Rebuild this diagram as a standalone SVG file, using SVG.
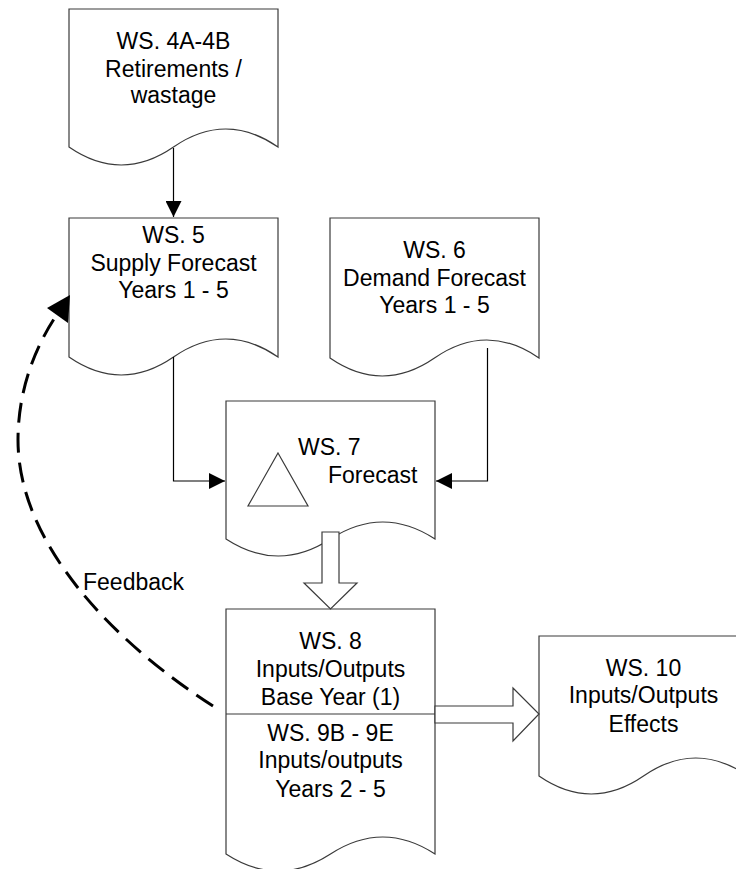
<svg xmlns="http://www.w3.org/2000/svg" width="736" height="869" viewBox="0 0 736 869">
  <style>
    .doc { fill: #ffffff; stroke: #3a3a3a; stroke-width: 1.2; }
    .blk { fill: #ffffff; stroke: #3a3a3a; stroke-width: 1.2; }
    .lbl { font-family: "Liberation Sans", Arial, sans-serif; font-size: 23px; fill: #000000; }
    .mid { text-anchor: middle; }
    .conn { fill: none; stroke: #000000; stroke-width: 1.2; }
    .fb { fill: none; stroke: #000000; stroke-width: 3; stroke-dasharray: 20 10; }
  </style>
  <defs>
    <marker id="tri" viewBox="0 0 16 16" refX="16" refY="8" markerWidth="16" markerHeight="16" markerUnits="userSpaceOnUse" orient="auto">
      <path d="M0,0 L16,8 L0,16 Z" fill="#000000"/>
    </marker>
  </defs>

  <!-- WS. 4A-4B -->
  <g id="ws4">
    <path class="doc" d="M69,9 H278 V147 Q225.75,111 173.5,147 T69,147 Z"/>
    <text class="lbl mid" x="173.5" y="49">WS. 4A-4B</text>
    <text class="lbl mid" x="173.5" y="77">Retirements /</text>
    <text class="lbl mid" x="173.5" y="103">wastage</text>
  </g>

  <!-- WS. 5 -->
  <g id="ws5">
    <path class="doc" d="M69,218 H278 V357 Q225.75,321 173.5,357 T69,357 Z"/>
    <text class="lbl mid" x="173.5" y="243">WS. 5</text>
    <text class="lbl mid" x="173.5" y="271">Supply Forecast</text>
    <text class="lbl mid" x="173.5" y="298">Years 1 - 5</text>
  </g>

  <!-- WS. 6 -->
  <g id="ws6">
    <path class="doc" d="M330,218 H539 V358 Q486.75,322 434.5,358 T330,358 Z"/>
    <text class="lbl mid" x="434.5" y="258">WS. 6</text>
    <text class="lbl mid" x="434.5" y="286">Demand Forecast</text>
    <text class="lbl mid" x="434.5" y="313">Years 1 - 5</text>
  </g>

  <!-- WS. 7 -->
  <g id="ws7">
    <path class="doc" d="M226,401 H435 V539 Q382.75,505 330.5,539 T226,539 Z"/>
    <polygon class="doc" points="278,453 308,506 248,506"/>
    <text class="lbl" x="298" y="455">WS. 7</text>
    <text class="lbl" x="328" y="483">Forecast</text>
  </g>

  <!-- WS. 8 / WS. 9B - 9E -->
  <g id="ws8">
    <path class="doc" d="M226,609 H435 V854 Q382.75,820 330.5,854 T226,854 Z"/>
    <line class="doc" x1="226" y1="714" x2="435" y2="714"/>
    <text class="lbl mid" x="330.5" y="649">WS. 8</text>
    <text class="lbl mid" x="330.5" y="677">Inputs/Outputs</text>
    <text class="lbl mid" x="330.5" y="705">Base Year (1)</text>
    <text class="lbl mid" x="330.5" y="741">WS. 9B - 9E</text>
    <text class="lbl mid" x="330.5" y="768">Inputs/outputs</text>
    <text class="lbl mid" x="330.5" y="797">Years 2 - 5</text>
  </g>

  <!-- WS. 10 -->
  <g id="ws10">
    <path class="doc" d="M539,636 H748 V776 Q695.75,740 643.5,776 T539,776 Z"/>
    <text class="lbl mid" x="643.5" y="676">WS. 10</text>
    <text class="lbl mid" x="643.5" y="703">Inputs/Outputs</text>
    <text class="lbl mid" x="643.5" y="732">Effects</text>
  </g>

  <!-- connectors -->
  <g id="connectors">
    <path class="conn" d="M173.5,148 V217" marker-end="url(#tri)"/>
    <path class="conn" d="M173.5,357 V481 H225" marker-end="url(#tri)"/>
    <path class="conn" d="M487.5,348 V481 H436" marker-end="url(#tri)"/>
    <!-- block arrow WS. 7 to WS. 8 -->
    <path class="blk" d="M322,532 H339 V583 H357 L330.5,609 L304,583 H322 Z"/>
    <!-- block arrow WS. 8 to WS. 10 -->
    <path class="blk" d="M435,706 H513 V688 L539,714 L513,741 V723 H435 Z"/>
    <!-- feedback loop -->
    <path class="fb" d="M213,706 C115,643 18,545 18,440 C18,395 32,352 56,316"/>
    <polygon points="70,295 47,308 68,323" fill="#000000"/>
    <text class="lbl" x="83" y="590">Feedback</text>
  </g>
</svg>
